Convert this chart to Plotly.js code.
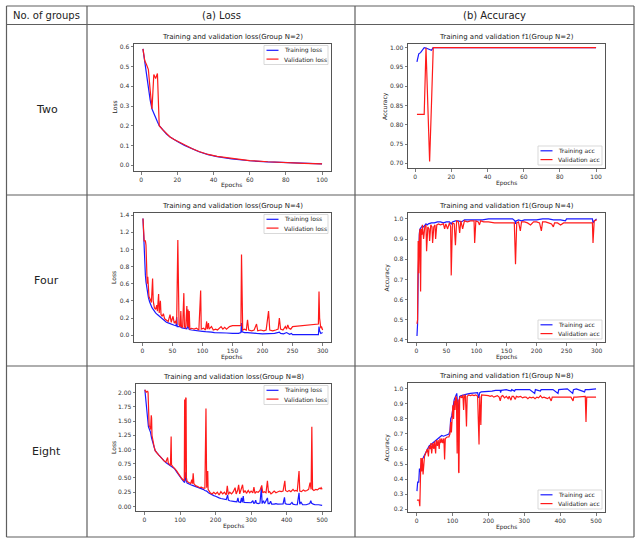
<!DOCTYPE html>
<html>
<head>
<meta charset="utf-8">
<script src="https://cdn.plot.ly/plotly-3.0.1.min.js"></script>
<style>
  html, body { margin: 0; padding: 0; background: #fff; }
  #fig { width: 643px; height: 543px; }
</style>
</head>
<body>
<div id="fig"></div>
<script>
// ---- table text ----
const headerLabels = ['No. of groups', '(a) Loss', '(b) Accuracy'];
const groupLabels = ['Two', 'Four', 'Eight'];
const lossTitles = ['Training and validation loss(Group N=2)', 'Training and validation loss(Group N=4)', 'Training and validation loss(Group N=8)'];
const accTitles = ['Training and validation f1(Group N=2)', 'Training and validation f1(Group N=4)', 'Training and validation f1(Group N=8)'];
const lossNames = ['Training loss', 'Validation loss'];
const accNames = ['Training acc', 'Validation acc'];

// ---- series: [epoch, value] ----
const lossN2Train = [[1,0.59],[2,0.52],[3,0.45],[4,0.39],[5,0.33],[6,0.285],[7,0.26],[8,0.24],[9,0.22],[10,0.2],[12,0.178],[14,0.158],[16,0.142],[18,0.13],[20,0.12],[24,0.1],[28,0.083],[32,0.068],[37,0.053],[42,0.043],[50,0.032],[60,0.022],[70,0.016],[80,0.012],[90,0.009],[100,0.006]];
const lossN2Val = [[1,0.59],[2,0.53],[3,0.51],[4,0.485],[5,0.38],[6,0.285],[7,0.46],[8,0.44],[9,0.465],[10,0.2],[12,0.179],[14,0.159],[16,0.143],[18,0.131],[20,0.121],[24,0.101],[28,0.084],[32,0.069],[37,0.054],[42,0.044],[50,0.033],[60,0.023],[70,0.017],[80,0.012],[90,0.009],[100,0.006]];

const accN2Train = [[1,0.963],[2,0.984],[3,0.987],[4,0.995],[5,1.0],[6,0.999],[7,0.997],[8,0.997],[9,0.993],[10,1.0],[20,1.0],[40,1.0],[60,1.0],[80,1.0],[100,1.0]];
const accN2Val = [[1,0.827],[2,0.827],[3,0.827],[4,0.827],[5,0.827],[6,1.0],[7,0.85],[8,0.705],[9,0.85],[10,1.0],[20,1.0],[40,1.0],[60,1.0],[80,1.0],[100,1.0]];

const lossN4Train = [[1,1.36],[2,1.15],[3,0.95],[4,0.82],[5,0.7],[6,0.62],[7,0.56],[8,0.5],[10,0.44],[12,0.39],[14,0.35],[16,0.32],[18,0.3],[20,0.27],[22,0.26],[25,0.24],[28,0.22],[30,0.21],[33,0.19],[36,0.17],[40,0.15],[44,0.14],[47,0.13],[50,0.12],[53,0.115],[56,0.11],[57,0.21],[58,0.1],[62,0.1],[66,0.085],[70,0.08],[74,0.075],[76,0.11],[78,0.065],[82,0.06],[86,0.055],[90,0.05],[95,0.045],[100,0.045],[105,0.04],[110,0.04],[115,0.035],[120,0.03],[130,0.03],[140,0.025],[150,0.02],[160,0.02],[164,0.03],[165,0.14],[166,0.04],[170,0.03],[175,0.03],[180,0.025],[190,0.02],[200,0.015],[210,0.015],[220,0.02],[228,0.035],[230,0.02],[235,0.015],[240,0.03],[245,0.01],[248,0.02],[250,0.005],[293,0.005],[294,0.1],[295,0.05],[297,0.02],[300,0.03]];
const lossN4Val = [[1,1.36],[2,1.2],[3,1.1],[4,1.1],[5,1.1],[6,1.05],[7,0.7],[8,0.6],[9,0.68],[10,0.5],[11,0.45],[13,0.42],[15,0.38],[17,0.66],[18,0.4],[20,0.32],[22,0.3],[24,0.35],[25,0.28],[27,0.48],[28,0.26],[30,0.4],[31,0.24],[33,0.22],[35,0.25],[37,0.19],[40,0.17],[43,0.16],[46,0.24],[48,0.15],[51,0.22],[53,0.14],[55,0.16],[57,0.13],[59,1.11],[60,0.15],[61,0.12],[63,0.1],[64,0.28],[65,0.1],[67,0.09],[69,0.49],[70,0.1],[72,0.08],[74,0.34],[75,0.1],[76,0.3],[77,0.09],[78,0.28],[79,0.07],[82,0.08],[86,0.07],[90,0.08],[94,0.06],[97,0.52],[98,0.07],[102,0.08],[105,0.06],[107,0.16],[108,0.07],[110,0.14],[111,0.07],[115,0.1],[118,0.06],[122,0.07],[125,0.06],[128,0.08],[131,0.1],[134,0.07],[137,0.09],[140,0.07],[145,0.1],[150,0.11],[160,0.11],[164,0.11],[165,0.94],[167,0.06],[170,0.07],[173,0.06],[175,0.18],[177,0.06],[182,0.05],[186,0.06],[190,0.13],[192,0.05],[197,0.06],[202,0.05],[206,0.06],[210,0.28],[212,0.06],[217,0.05],[222,0.06],[226,0.07],[228,0.2],[230,0.07],[234,0.06],[238,0.1],[240,0.07],[242,0.12],[244,0.08],[247,0.07],[250,0.1],[293,0.13],[294,0.51],[295,0.2],[297,0.08],[298,0.1],[300,0.06]];

const accN4Train = [[1,0.42],[2,0.48],[3,0.73],[4,0.9],[5,0.93],[6,0.95],[7,0.955],[8,0.96],[10,0.965],[12,0.96],[14,0.97],[16,0.975],[18,0.97],[20,0.975],[25,0.98],[30,0.98],[35,0.985],[40,0.985],[45,0.98],[50,0.985],[55,0.985],[58,0.975],[60,0.985],[65,0.99],[70,0.99],[75,0.985],[80,0.995],[90,0.995],[100,0.995],[110,0.995],[120,1.0],[140,1.0],[160,1.0],[164,0.99],[165,0.975],[166,0.99],[170,0.995],[175,0.99],[180,0.995],[200,0.995],[210,1.0],[220,1.0],[228,0.995],[240,0.995],[248,0.99],[250,1.0],[293,1.0],[294,0.98],[296,0.99],[300,1.0]];
const accN4Val = [[1,0.48],[2,0.5],[3,0.89],[4,0.73],[5,0.92],[6,0.95],[7,0.64],[8,0.95],[9,0.92],[10,0.97],[12,0.9],[14,0.96],[16,0.97],[17,0.84],[19,0.96],[21,0.95],[22,0.89],[24,0.97],[26,0.96],[27,0.88],[29,0.96],[31,0.97],[32,0.9],[34,0.97],[37,0.975],[40,0.97],[45,0.975],[47,0.95],[49,0.975],[52,0.95],[55,0.98],[57,0.96],[58,0.72],[60,0.98],[63,0.975],[65,0.87],[67,0.99],[70,0.985],[72,0.93],[74,0.99],[77,0.95],[80,0.99],[85,0.985],[90,0.99],[96,0.99],[97,0.88],[99,0.99],[103,0.985],[105,0.97],[107,0.99],[112,0.985],[120,0.985],[130,0.98],[140,0.98],[150,0.98],[163,0.98],[165,0.775],[167,0.98],[170,0.985],[173,0.94],[175,0.985],[180,0.985],[185,0.98],[190,0.97],[195,0.985],[200,0.985],[205,0.98],[208,0.94],[210,0.985],[215,0.985],[220,0.98],[225,0.975],[228,0.96],[230,0.98],[235,0.98],[240,0.97],[245,0.98],[250,0.98],[293,0.98],[294,0.88],[296,0.99],[300,0.995]];

const lossN8Train = [[1,2.05],[3,1.9],[5,1.72],[7,1.55],[9,1.45],[11,1.4],[14,1.35],[17,1.3],[20,1.2],[23,1.12],[26,1.06],[30,0.98],[35,0.94],[40,0.9],[45,0.86],[50,0.83],[55,0.8],[60,0.77],[65,0.75],[70,0.73],[75,0.71],[80,0.69],[85,0.66],[90,0.61],[95,0.56],[100,0.52],[105,0.48],[110,0.44],[113,0.42],[115,0.6],[117,0.46],[120,0.41],[125,0.39],[130,0.38],[135,0.37],[140,0.36],[145,0.35],[150,0.34],[155,0.32],[160,0.31],[165,0.3],[170,0.28],[175,0.27],[180,0.24],[185,0.22],[190,0.2],[195,0.19],[200,0.18],[205,0.16],[210,0.15],[215,0.14],[220,0.13],[225,0.12],[230,0.12],[234,0.2],[236,0.11],[240,0.1],[245,0.1],[250,0.09],[255,0.085],[260,0.08],[263,0.15],[265,0.08],[270,0.07],[273,0.15],[275,0.07],[278,0.18],[280,0.07],[285,0.07],[290,0.06],[295,0.06],[300,0.065],[305,0.1],[307,0.06],[310,0.06],[313,0.11],[315,0.06],[320,0.05],[325,0.06],[329,0.33],[331,0.05],[335,0.1],[338,0.05],[343,0.12],[346,0.15],[348,0.05],[352,0.05],[355,0.09],[358,0.04],[365,0.04],[370,0.05],[375,0.04],[380,0.04],[385,0.04],[390,0.045],[394,0.16],[396,0.05],[400,0.04],[410,0.035],[415,0.07],[418,0.04],[425,0.03],[430,0.03],[435,0.24],[437,0.04],[440,0.08],[445,0.03],[455,0.03],[465,0.05],[468,0.1],[470,0.06],[475,0.04],[480,0.03],[490,0.03],[500,0.02]];
const lossN8Val = [[1,2.05],[3,2.02],[5,2.0],[7,2.02],[9,2.02],[10,2.0],[11,1.45],[13,1.42],[15,1.4],[17,1.35],[19,1.6],[20,1.55],[21,1.25],[24,1.12],[27,1.05],[30,0.98],[35,0.93],[40,0.9],[45,0.87],[50,0.83],[55,0.8],[60,0.78],[65,0.86],[67,0.76],[70,0.74],[73,0.72],[75,1.23],[76,0.73],[80,0.7],[85,0.67],[90,0.63],[95,0.58],[100,0.53],[105,0.49],[110,0.46],[112,0.45],[113,1.88],[114,0.5],[116,1.9],[117,1.91],[118,0.5],[120,0.44],[125,0.42],[130,0.4],[133,0.47],[135,0.4],[137,0.58],[139,0.4],[142,0.38],[145,0.36],[150,0.35],[155,0.33],[160,0.34],[165,0.32],[170,0.32],[173,1.72],[175,0.33],[177,0.62],[178,0.62],[179,0.3],[182,0.26],[185,0.24],[190,0.22],[195,0.25],[200,0.22],[205,0.25],[210,0.2],[215,0.26],[220,0.22],[225,0.25],[230,0.2],[233,0.36],[236,0.21],[240,0.25],[245,0.22],[250,0.26],[255,0.33],[258,0.22],[262,0.28],[265,0.38],[268,0.22],[272,0.3],[276,0.38],[279,0.24],[283,0.28],[287,0.23],[292,0.28],[296,0.24],[300,0.27],[305,0.24],[308,0.34],[311,0.23],[315,0.26],[320,0.25],[325,0.28],[330,0.37],[333,0.24],[337,0.26],[342,0.24],[346,0.45],[349,0.25],[352,0.26],[356,0.22],[360,0.24],[365,0.27],[370,0.24],[375,0.25],[380,0.27],[385,0.26],[390,0.27],[395,0.45],[397,0.28],[402,0.26],[407,0.28],[412,0.26],[418,0.3],[422,0.27],[426,0.28],[430,0.27],[435,0.62],[437,0.27],[442,0.26],[447,0.29],[452,0.27],[457,0.28],[462,0.3],[466,0.42],[469,0.3],[471,1.4],[473,0.3],[477,0.28],[482,0.3],[487,0.29],[492,0.32],[495,0.31],[497,0.33],[500,0.3]];

const accN8Train = [[1,0.32],[3,0.38],[6,0.38],[8,0.47],[10,0.45],[13,0.5],[15,0.53],[18,0.54],[20,0.55],[25,0.57],[30,0.6],[35,0.62],[40,0.63],[45,0.64],[50,0.65],[55,0.66],[60,0.67],[65,0.68],[70,0.69],[75,0.685],[80,0.69],[85,0.69],[90,0.7],[93,0.72],[95,0.8],[98,0.82],[100,0.87],[103,0.9],[105,0.93],[108,0.95],[110,0.96],[112,0.97],[114,0.9],[115,0.65],[117,0.88],[120,0.95],[125,0.955],[130,0.96],[135,0.96],[140,0.965],[150,0.97],[160,0.975],[170,0.975],[173,0.94],[176,0.975],[180,0.98],[190,0.98],[200,0.985],[210,0.985],[220,0.99],[233,0.99],[234,0.975],[236,0.99],[250,0.995],[263,0.985],[265,0.995],[273,0.985],[275,0.995],[285,0.995],[300,0.995],[313,0.99],[315,0.995],[329,0.97],[331,0.995],[345,0.985],[347,0.995],[360,0.995],[380,0.995],[394,0.97],[396,0.995],[420,1.0],[435,0.97],[437,0.995],[445,1.0],[468,0.98],[470,0.995],[480,0.995],[490,1.0],[500,1.0]];
const accN8Val = [[1,0.26],[3,0.26],[5,0.26],[7,0.26],[9,0.22],[10,0.5],[12,0.54],[14,0.45],[16,0.54],[18,0.43],[20,0.52],[22,0.55],[25,0.57],[28,0.59],[30,0.6],[33,0.55],[35,0.62],[38,0.6],[40,0.64],[42,0.57],[45,0.64],[48,0.6],[50,0.65],[53,0.57],[55,0.66],[58,0.62],[60,0.66],[63,0.6],[65,0.67],[68,0.64],[70,0.67],[73,0.64],[76,0.67],[78,0.53],[80,0.67],[85,0.68],[90,0.68],[93,0.7],[95,0.78],[97,0.71],[99,0.82],[101,0.89],[103,0.8],[105,0.92],[107,0.86],[109,0.95],[111,0.94],[113,0.57],[114,0.9],[116,0.93],[117,0.45],[118,0.44],[120,0.94],[123,0.95],[126,0.94],[129,0.96],[131,0.86],[133,0.95],[136,0.96],[139,0.75],[141,0.95],[145,0.96],[150,0.955],[155,0.96],[160,0.955],[165,0.96],[170,0.95],[174,0.63],[176,0.95],[179,0.76],[181,0.96],[185,0.96],[190,0.955],[195,0.96],[200,0.955],[205,0.95],[210,0.955],[215,0.945],[220,0.95],[225,0.955],[230,0.945],[233,0.92],[236,0.95],[240,0.955],[245,0.94],[250,0.95],[255,0.935],[258,0.95],[263,0.925],[266,0.95],[270,0.95],[275,0.93],[278,0.95],[283,0.945],[290,0.95],[295,0.94],[300,0.945],[305,0.945],[310,0.935],[315,0.945],[320,0.94],[325,0.945],[330,0.935],[335,0.945],[340,0.94],[345,0.955],[350,0.94],[355,0.945],[360,0.94],[365,0.935],[370,0.945],[375,0.92],[378,0.945],[385,0.945],[395,0.945],[405,0.945],[415,0.94],[422,0.945],[430,0.945],[436,0.92],[438,0.945],[445,0.945],[455,0.945],[465,0.945],[470,0.95],[472,0.78],[474,0.945],[480,0.945],[490,0.945],[500,0.945]];

// ---- tick labels ----
const epochTicks100 = [0, 20, 40, 60, 80, 100];
const epochTicks300 = [0, 50, 100, 150, 200, 250, 300];
const epochTicks500 = [0, 100, 200, 300, 400, 500];
const lossTicksN2 = [0, 0.1, 0.2, 0.3, 0.4, 0.5, 0.6];
const accTicksN2 = [0.70, 0.75, 0.80, 0.85, 0.90, 0.95, 1.00];
const lossTicksN4 = [0, 0.2, 0.4, 0.6, 0.8, 1.0, 1.2, 1.4];
const accTicksN4 = [0.4, 0.5, 0.6, 0.7, 0.8, 0.9, 1.0];
const lossTicksN8 = [0, 0.25, 0.5, 0.75, 1.0, 1.25, 1.5, 1.75, 2.0];
const accTicksN8 = [0.2, 0.3, 0.4, 0.5, 0.6, 0.7, 0.8, 0.9, 1.0];

// ---- page geometry (pixels) ----
const W = 643, H = 543;
const px = x => x / W;
const py = y => 1 - y / H;
const LINE = '#5e5e5e';
const TXT = '#222';
const FONT = 'DejaVu Sans';
const BLUE = '#1a1aff', RED = '#ff1a1a';

const panels = [
  { title: lossTitles[0], ylabel: 'Loss', names: lossNames, train: lossN2Train, val: lossN2Val,
    box: [134, 331, 44, 171], xr: [-3.95, 104.95], yr: [-0.03, 0.615], xt: epochTicks100, yt: lossTicksN2, dec: 1, legend: 'top', ylOff: 20 },
  { title: accTitles[0], ylabel: 'Accuracy', names: accNames, train: accN2Train, val: accN2Val,
    box: [408, 605, 44, 168], xr: [-3.95, 104.95], yr: [0.688, 1.0095], xt: epochTicks100, yt: accTicksN2, dec: 2, legend: 'bottom', ylOff: 23 },
  { title: lossTitles[1], ylabel: 'Loss', names: lossNames, train: lossN4Train, val: lossN4Val,
    box: [134, 331, 213, 342], xr: [-13.95, 313.95], yr: [-0.08, 1.425], xt: epochTicks300, yt: lossTicksN4, dec: 1, legend: 'top', ylOff: 20.5 },
  { title: accTitles[1], ylabel: 'Accuracy', names: accNames, train: accN4Train, val: accN4Val,
    box: [408, 605, 213, 342], xr: [-13.95, 313.95], yr: [0.39, 1.029], xt: epochTicks300, yt: accTicksN4, dec: 1, legend: 'bottom', ylOff: 22 },
  { title: lossTitles[2], ylabel: 'Loss', names: lossNames, train: lossN8Train, val: lossN8Val,
    box: [136, 331, 384, 511], xr: [-23.95, 524.95], yr: [-0.08, 2.15], xt: epochTicks500, yt: lossTicksN8, dec: 2, legend: 'top', ylOff: 22.5 },
  { title: accTitles[2], ylabel: 'Accuracy', names: accNames, train: accN8Train, val: accN8Val,
    box: [408, 605, 383, 512], xr: [-23.95, 524.95], yr: [0.181, 1.039], xt: epochTicks500, yt: accTicksN8, dec: 1, legend: 'bottom', ylOff: 22 }
];

const traces = [];
const layout = {
  width: W, height: H,
  margin: { l: 0, r: 0, t: 0, b: 0 },
  paper_bgcolor: '#fff', plot_bgcolor: '#fff',
  showlegend: false,
  font: { family: FONT, color: TXT },
  shapes: [], annotations: []
};

const tickFont = { family: FONT, size: 6, color: '#333' };

panels.forEach((p, i) => {
  const n = i === 0 ? '' : String(i + 1);
  const xid = 'x' + n, yid = 'y' + n;
  const [x0, x1, y0, y1] = p.box;

  const common = {
    ticks: 'outside', ticklen: 2.5, tickwidth: 0.7, tickcolor: '#444',
    tickfont: tickFont, showline: true, mirror: true, linecolor: '#555', linewidth: 1,
    showgrid: false, zeroline: false, fixedrange: true, tickmode: 'array'
  };
  layout['xaxis' + n] = Object.assign({}, common, {
    domain: [px(x0), px(x1)], range: p.xr, anchor: yid,
    tickvals: p.xt, ticktext: p.xt.map(v => String(v))
  });
  layout['yaxis' + n] = Object.assign({}, common, {
    domain: [py(y1), py(y0)], range: p.yr, anchor: xid,
    tickvals: p.yt, ticktext: p.yt.map(v => v.toFixed(p.dec))
  });

  traces.push({
    type: 'scatter', mode: 'lines', name: p.names[0], xaxis: xid, yaxis: yid,
    x: p.train.map(d => d[0]), y: p.train.map(d => d[1]),
    line: { color: BLUE, width: 1.2 }
  });
  traces.push({
    type: 'scatter', mode: 'lines', name: p.names[1], xaxis: xid, yaxis: yid,
    x: p.val.map(d => d[0]), y: p.val.map(d => d[1]),
    line: { color: RED, width: 1.2 }
  });

  const cx = (x0 + x1) / 2;
  // subplot title
  layout.annotations.push({
    xref: 'paper', yref: 'paper', x: px(cx), y: py(y0 - 7), xanchor: 'center', yanchor: 'middle',
    text: p.title, showarrow: false, font: { family: FONT, size: 7, color: TXT }
  });
  // axis titles
  layout.annotations.push({
    xref: 'paper', yref: 'paper', x: px(cx), y: py(y1 + 14.5), xanchor: 'center', yanchor: 'middle',
    text: 'Epochs', showarrow: false, font: { family: FONT, size: 6, color: TXT }
  });
  layout.annotations.push({
    xref: 'paper', yref: 'paper', x: px(x0 - p.ylOff), y: py((y0 + y1) / 2), xanchor: 'center', yanchor: 'middle',
    text: p.ylabel, textangle: -90, showarrow: false, font: { family: FONT, size: 6, color: TXT }
  });

  // legend box
  const bw = 64, bh = 19;
  const bx1 = x1 - 3, bx0 = bx1 - bw;
  const by0 = p.legend === 'top' ? y0 + 1.5 : y1 - 3 - bh;
  layout.shapes.push({
    type: 'rect', xref: 'paper', yref: 'paper',
    x0: px(bx0), x1: px(bx1), y0: py(by0 + bh), y1: py(by0),
    line: { color: '#cfcfcf', width: 0.8 }, fillcolor: 'rgba(255,255,255,0.8)'
  });
  const colors = [BLUE, RED];
  [4.8, 13.6].forEach((dy, k) => {
    const ry = by0 + dy;
    layout.shapes.push({
      type: 'line', xref: 'paper', yref: 'paper',
      x0: px(bx0 + 2.5), x1: px(bx0 + 14.5), y0: py(ry), y1: py(ry),
      line: { color: colors[k], width: 1.2 }
    });
    layout.annotations.push({
      xref: 'paper', yref: 'paper', x: px(bx0 + 18.5), y: py(ry), xanchor: 'left', yanchor: 'middle',
      text: p.names[k], showarrow: false, borderpad: 0, font: { family: FONT, size: 6, color: TXT }
    });
  });
});

// ---- table grid ----
const tableX = [6.5, 87, 355, 634];
const tableY = [6, 24.5, 195, 366, 537];
tableX.forEach(x => layout.shapes.push({
  type: 'line', xref: 'paper', yref: 'paper', x0: px(x), x1: px(x), y0: py(tableY[0]), y1: py(tableY[tableY.length - 1]),
  line: { color: LINE, width: 1.2 }, layer: 'below'
}));
tableY.forEach(y => layout.shapes.push({
  type: 'line', xref: 'paper', yref: 'paper', x0: px(tableX[0]), x1: px(tableX[tableX.length - 1]), y0: py(y), y1: py(y),
  line: { color: LINE, width: 1.2 }, layer: 'below'
}));

// header row
headerLabels.forEach((t, k) => {
  layout.annotations.push({
    xref: 'paper', yref: 'paper', x: px((tableX[k] + tableX[k + 1]) / 2), y: py(15.2),
    xanchor: 'center', yanchor: 'middle', text: t, showarrow: false,
    font: { family: FONT, size: 10, color: TXT }
  });
});
// group labels
groupLabels.forEach((t, k) => {
  layout.annotations.push({
    xref: 'paper', yref: 'paper', x: px((tableX[0] + tableX[1]) / 2), y: py((tableY[k + 1] + tableY[k + 2]) / 2),
    xanchor: 'center', yanchor: 'middle', text: t, showarrow: false,
    font: { family: FONT, size: 11, color: TXT }
  });
});

Plotly.newPlot('fig', traces, layout, { staticPlot: true, displayModeBar: false });
</script>
</body>
</html>
